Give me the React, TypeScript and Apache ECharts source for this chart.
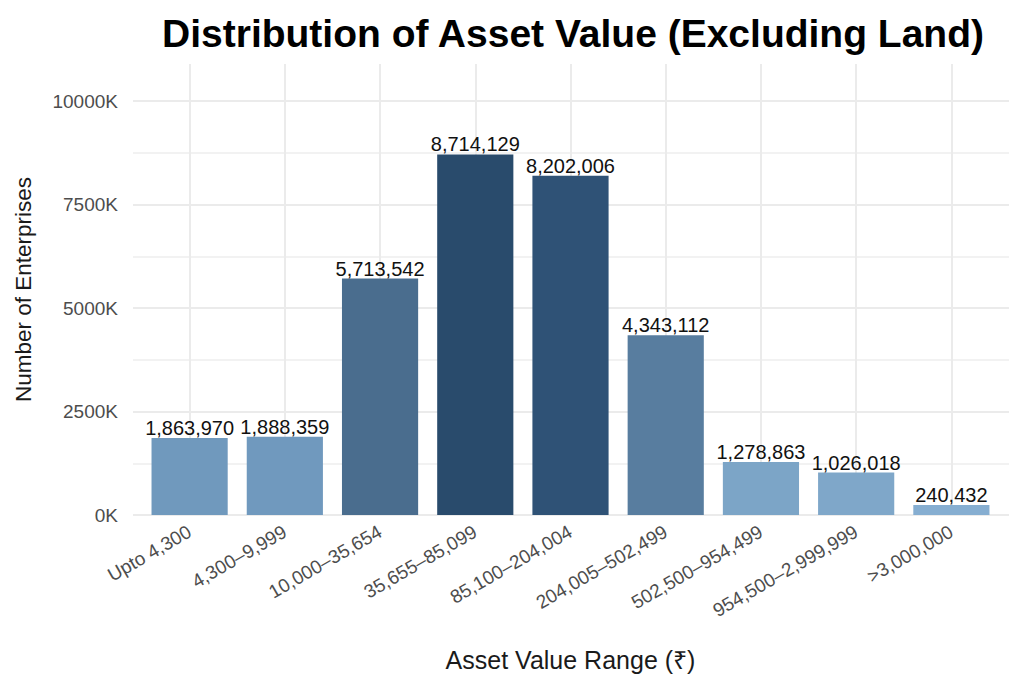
import React, { useEffect, useRef } from "react";
import * as echarts from "echarts";

const categories = [
  "Upto 4,300",
  "4,300–9,999",
  "10,000–35,654",
  "35,655–85,099",
  "85,100–204,004",
  "204,005–502,499",
  "502,500–954,499",
  "954,500–2,999,999",
  ">3,000,000",
];
const enterprises = [1863970, 1888359, 5713542, 8714129, 8202006, 4343112, 1278863, 1026018, 240432];
const barColors = ["#7099bd", "#7099be", "#4a6d8e", "#294b6c", "#2f5276", "#587d9f", "#7ca5c7", "#7fa7c9", "#86aed1"];
const yTicks = [0, 2500000, 5000000, 7500000, 10000000];

const Y_MAX = 10900000;
const FONT = "Liberation Sans, Arial, sans-serif";

export default function App() {
  const ref = useRef<HTMLDivElement>(null);
  useEffect(() => {
    if (!ref.current) return;
    const chart = echarts.init(ref.current, undefined, { renderer: "svg" });
    const fmt = (v: number) => v.toLocaleString("en-US");
    chart.setOption({
      animation: false,
      backgroundColor: "#ffffff",
      textStyle: { fontFamily: FONT },
      title: {
        text: "Distribution of Asset Value (Excluding Land)",
        left: 568,
        textAlign: "center",
        top: 9,
        textStyle: { fontFamily: FONT, fontSize: 39, fontWeight: "bold", color: "#000000" },
      },
      grid: [
        { left: 133, top: 64, width: 876, height: 451 },
        { left: 142, top: 64, width: 857, height: 451 },
      ],
      xAxis: [
        { type: "value", gridIndex: 0, min: 0, max: 1, show: false },
        {
          type: "category",
          gridIndex: 1,
          data: categories,
          axisLine: { show: false },
          axisTick: { show: false },
          axisLabel: {
            rotate: 30,
            margin: 15,
            fontSize: 19,
            color: "#4d4d4d",
            fontFamily: FONT,
          },
          splitLine: {
            show: true,
            alignWithLabel: true,
            lineStyle: { color: "#ebebeb", width: 2 },
          },
          name: "Asset Value Range (₹)",
          nameLocation: "middle",
          nameGap: 132,
          nameTextStyle: { fontSize: 25, color: "#1a1a1a", fontFamily: FONT },
        },
      ],
      yAxis: [
        {
          type: "value",
          gridIndex: 0,
          min: 0,
          max: Y_MAX,
          interval: 2500000,
          axisLine: { show: false },
          axisTick: { show: false },
          axisLabel: {
            showMaxLabel: false,
            margin: 15,
            fontSize: 19,
            color: "#4d4d4d",
            fontFamily: FONT,
            formatter: (v: number) => (yTicks.includes(v) ? `${v / 1000}K` : ""),
          },
          splitLine: {
            show: true,
            showMaxLine: false,
            lineStyle: { color: "#ebebeb", width: 2 },
          },
          name: "Number of Enterprises",
          nameLocation: "middle",
          nameGap: 98,
          nameTextStyle: { fontSize: 22.5, color: "#1a1a1a", fontFamily: FONT },
          z: 1,
        },
        {
          type: "value",
          gridIndex: 0,
          min: 0,
          max: Y_MAX,
          interval: 1250000,
          axisLine: { show: false },
          axisTick: { show: false },
          axisLabel: { show: false },
          splitLine: {
            show: true,
            showMaxLine: false,
            lineStyle: { color: "#eeeeee", width: 1.5 },
          },
          z: 0,
        },
        {
          type: "value",
          gridIndex: 1,
          min: 0,
          max: Y_MAX,
          show: false,
        },
      ],
      series: [
        {
          type: "bar",
          xAxisIndex: 1,
          yAxisIndex: 2,
          barWidth: "80%",
          data: enterprises.map((v, i) => ({ value: v, itemStyle: { color: barColors[i] } })),
          label: {
            show: true,
            position: "top",
            distance: 0,
            fontSize: 20,
            color: "#111111",
            fontFamily: FONT,
            formatter: (p: any) => fmt(p.value),
          },
        },
      ],
    });
    return () => chart.dispose();
  }, []);
  return (
    <div
      ref={ref}
      style={{ position: "fixed", left: 0, top: 0, width: 1024, height: 691 }}
    />
  );
}
